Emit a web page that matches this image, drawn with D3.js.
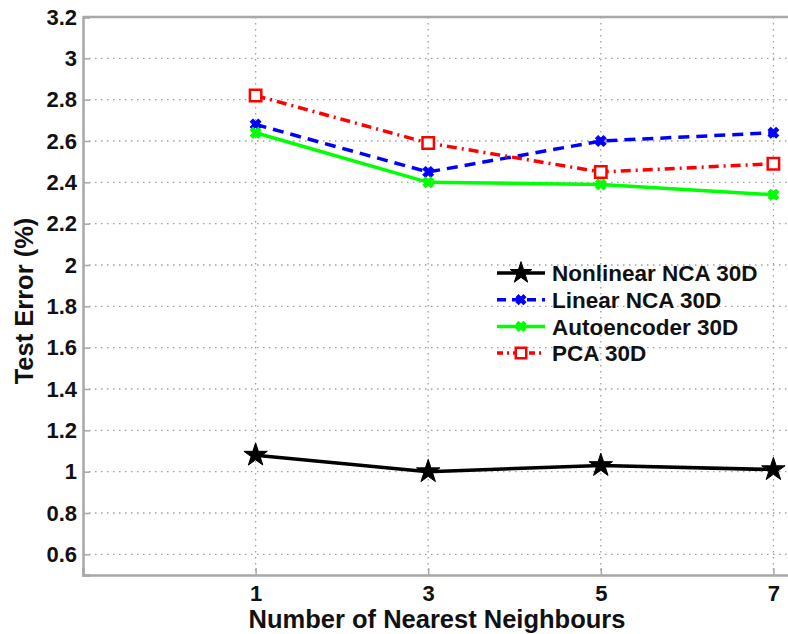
<html>

<head>
    <style>
        body { margin: 0; background: #fff; }
        text { font-family: "Liberation Sans", Arial, sans-serif; font-weight: bold; fill: #111; }
    </style>
</head>

<body>
    <script src="https://d3js.org/d3.v7.min.js"></script>
    <script>
        // data
        var neighbours = [1, 3, 5, 7];
        var yTicks = [0.6, 0.8, 1, 1.2, 1.4, 1.6, 1.8, 2, 2.2, 2.4, 2.6, 2.8, 3, 3.2];
        var seriesNames = ['Nonlinear NCA 30D', 'Linear NCA 30D', 'Autoencoder 30D', 'PCA 30D'];
        var nonlinearNCA = [1.08, 1.0, 1.03, 1.01];
        var linearNCA = [2.68, 2.45, 2.6, 2.64];
        var autoencoder = [2.64, 2.4, 2.39, 2.34];
        var pca = [2.82, 2.59, 2.45, 2.49];

        var width = 788, height = 634,
            plotLeft = 83, plotTop = 17, plotBottom = 575;

        var series = [
            { name: seriesNames[0], values: nonlinearNCA, color: '#000000', dash: null, sym: d3.symbolStar, size: 170, rot: 0, fill: '#000' },
            { name: seriesNames[1], values: linearNCA, color: '#0000ff', dash: '11,7', sym: d3.symbolCross, size: 70, rot: 45, fill: '#0000ff' },
            { name: seriesNames[2], values: autoencoder, color: '#00ff00', dash: null, sym: d3.symbolCross, size: 70, rot: 45, fill: '#00ff00' },
            { name: seriesNames[3], values: pca, color: '#ff0000', dash: '10,5,2,5', sym: d3.symbolSquare, size: 130, rot: 0, fill: '#fff' }
        ];

        //比例尺 -- x axis runs past the right edge of the picture
        var x = d3.scaleLinear().domain([-1, 8]).range([plotLeft, plotLeft + 9 * 86.3]);
        var y = d3.scaleLinear().domain([0.5, 3.2]).range([plotBottom, plotTop]);

        var svg = d3.select('body').append('svg')
            .attr('width', width).attr('height', height);

        // grid
        var grid = svg.append('g')
            .attr('stroke', '#a0a0a0').attr('stroke-width', 1.3).attr('stroke-dasharray', '1.5,4.5');
        grid.selectAll('line.h').data(yTicks.filter(d => d < 3.2)).enter().append('line')
            .attr('x1', plotLeft).attr('x2', width).attr('y1', d => y(d)).attr('y2', d => y(d));
        grid.selectAll('line.v').data(neighbours).enter().append('line')
            .attr('x1', d => x(d)).attr('x2', d => x(d)).attr('y1', plotTop).attr('y2', plotBottom);

        // axes box
        var axisColor = '#a8a8a8';
        var tickText = g => g.selectAll('.tick text').attr('font-size', 22)
            .style('font-family', '"Liberation Sans", Arial, sans-serif').style('font-weight', 'bold').attr('fill', '#111');
        svg.append('g').attr('transform', `translate(${plotLeft},0)`)
            .call(d3.axisLeft(y).tickValues(yTicks).tickSize(-7).tickPadding(6).tickFormat(d3.format('~g')))
            .call(g => g.select('.domain').attr('stroke', axisColor).attr('stroke-width', 2.5))
            .call(g => g.selectAll('.tick line').attr('stroke', axisColor).attr('stroke-width', 1.5))
            .call(tickText);
        svg.append('g').attr('transform', `translate(0,${plotBottom})`)
            .call(d3.axisBottom(x).tickValues(neighbours).tickSize(-7).tickPadding(10))
            .call(g => g.select('.domain').attr('stroke', axisColor).attr('stroke-width', 2.5))
            .call(g => g.selectAll('.tick line').attr('stroke', axisColor).attr('stroke-width', 1.5))
            .call(tickText);
        svg.append('line').attr('x1', plotLeft).attr('x2', width).attr('y1', plotTop).attr('y2', plotTop)
            .attr('stroke', axisColor).attr('stroke-width', 2.5);

        // lines
        var line = d3.line().x((d, i) => x(neighbours[i])).y(d => y(d));
        svg.selectAll('path.series').data(series).enter().append('path')
            .attr('class', 'series')
            .attr('d', d => line(d.values))
            .attr('fill', 'none')
            .attr('stroke', d => d.color)
            .attr('stroke-width', 3.5)
            .attr('stroke-dasharray', d => d.dash);

        // markers
        series.forEach(function (s) {
            svg.selectAll(null).data(s.values).enter().append('path')
                .attr('d', d3.symbol().type(s.sym).size(s.size))
                .attr('transform', (d, i) => `translate(${x(neighbours[i])},${y(d)}) rotate(${s.rot})`)
                .attr('fill', s.fill)
                .attr('stroke', s.color)
                .attr('stroke-width', s.sym === d3.symbolSquare ? 2.5 : 1);
        });

        // legend
        var legend = svg.selectAll('g.legend').data(series).enter().append('g')
            .attr('class', 'legend')
            .attr('transform', (d, i) => `translate(497,${273 + i * 26.7})`);
        legend.append('line')
            .attr('x1', 0).attr('x2', 48)
            .attr('stroke', d => d.color).attr('stroke-width', 3.5)
            .attr('stroke-dasharray', (d, i) => i === 1 ? '9,6' : (i === 3 ? '6,4,2,4' : null));
        legend.append('path')
            .attr('d', d => d3.symbol().type(d.sym).size(d.size * 0.85)())
            .attr('transform', d => `translate(24,0) rotate(${d.rot})`)
            .attr('fill', d => d.fill)
            .attr('stroke', d => d.color)
            .attr('stroke-width', d => d.sym === d3.symbolSquare ? 2.5 : 1);
        legend.append('text')
            .attr('x', 55).attr('dy', '0.36em')
            .attr('font-size', 22.5)
            .text(d => d.name);

        // axis labels
        svg.append('text')
            .attr('x', 437).attr('y', 628)
            .attr('text-anchor', 'middle')
            .attr('font-size', 25.5)
            .text('Number of Nearest Neighbours');
        svg.append('text')
            .attr('transform', 'translate(33,301) rotate(-90)')
            .attr('text-anchor', 'middle')
            .attr('font-size', 25.5)
            .text('Test Error (%)');
    </script>
</body>

</html>
